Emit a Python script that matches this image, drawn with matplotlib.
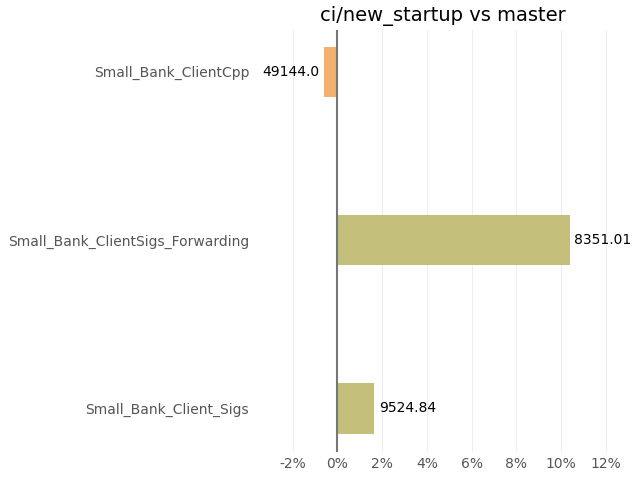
import matplotlib; matplotlib.use("Agg")
import matplotlib.pyplot as plt
from matplotlib.ticker import FuncFormatter

names = ["Small_Bank_Client_Sigs", "Small_Bank_ClientSigs_Forwarding", "Small_Bank_ClientCpp"]
pct = [1.65, 10.4, -0.6]
values = ["9524.84", "8351.01", "49144.0"]
colors = ["#c4bf7a", "#c4bf7a", "#f4b06e"]

fig = plt.figure(figsize=(6.4, 4.8), dpi=100)
ax = fig.add_axes([0.398, 0.058, 0.587, 0.88])
ys = list(range(len(names)))
ax.barh(ys, pct, height=0.3, color=colors, zorder=2)
for y, p, v in zip(ys, pct, values):
    if p >= 0:
        ax.text(p + 0.2, y, v, va="center", ha="left", fontsize=10)
    else:
        ax.text(p - 0.2, y, v, va="center", ha="right", fontsize=10)
ax.axvline(0, color="#777777", lw=1.5, zorder=3)
ax.set_xlim(-3.7, 13.1)
ax.set_ylim(-0.26, 2.25)
ax.set_xticks(range(-2, 13, 2))
ax.xaxis.set_major_formatter(FuncFormatter(lambda x, _: f"{x:.0f}%"))
ax.set_yticks(ys)
ax.set_yticklabels(names)
ax.grid(axis="x", color="#eeeeee", lw=0.8, zorder=0)
for s in ax.spines.values():
    s.set_visible(False)
ax.tick_params(length=0, colors="#555555", labelsize=10)
ax.tick_params(axis="y", pad=4)
ax.set_title("ci/new_startup vs master", fontsize=14)
fig.savefig("out.png")
